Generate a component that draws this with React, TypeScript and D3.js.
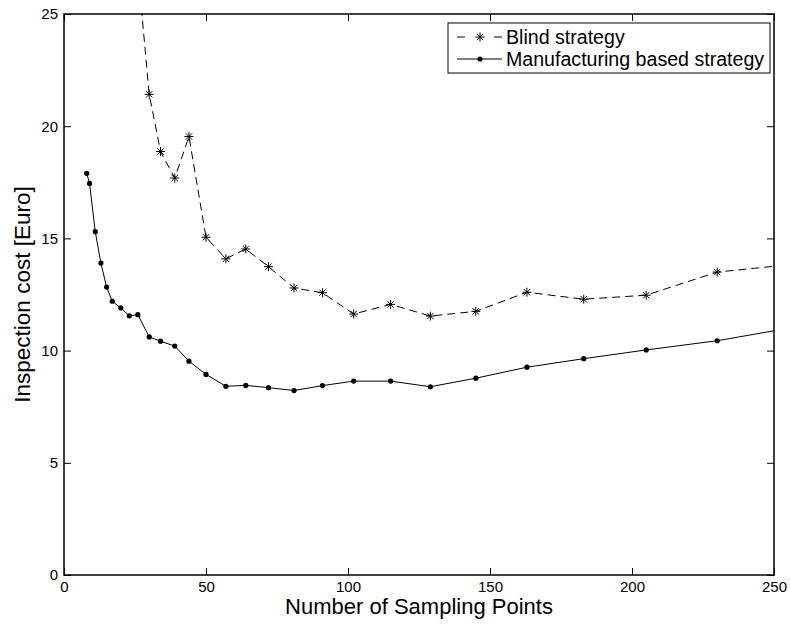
import React, { useRef, useEffect } from "react";
import * as d3 from "d3";

// Data
const mfgX = [8, 9, 11, 13, 15, 17, 20, 23, 26, 30, 34, 39, 44, 50, 57, 64, 72, 81, 91, 102, 115, 129, 145, 163, 183, 205, 230, 258];
const mfgCost = [17.9, 17.45, 15.3, 13.9, 12.83, 12.2, 11.9, 11.55, 11.6, 10.61, 10.42, 10.2, 9.53, 8.94, 8.41, 8.45, 8.35, 8.22, 8.44, 8.64, 8.64, 8.39, 8.77, 9.26, 9.64, 10.03, 10.44, 11.06];
const blindX = [26, 30, 34, 39, 44, 50, 57, 64, 72, 81, 91, 102, 115, 129, 145, 163, 183, 205, 230, 258];
const blindCost = [27.0, 21.42, 18.87, 17.69, 19.54, 15.05, 14.09, 14.53, 13.74, 12.79, 12.58, 11.63, 12.06, 11.54, 11.75, 12.6, 12.29, 12.47, 13.5, 13.86];
const xTicks = [0, 50, 100, 150, 200, 250];
const yTicks = [0, 5, 10, 15, 20, 25];
const seriesNames = ["Blind strategy", "Manufacturing based strategy"];

const W = 790, H = 629;
const margin = { left: 64, right: 16, top: 14, bottom: 54 };
const FONT = "'Liberation Sans', Arial, Helvetica, sans-serif";

const App = () => {
  const svgRef = useRef(null);

  useEffect(() => {
    const svg = d3.select(svgRef.current);
    svg.selectAll("*").remove();

    const x = d3.scaleLinear().domain([0, 250]).range([margin.left, W - margin.right]);
    const y = d3.scaleLinear().domain([0, 25]).range([H - margin.bottom, margin.top]);
    const [x0, x1] = x.range();
    const [y0, y1] = y.range();

    svg.append("rect").attr("width", W).attr("height", H).attr("fill", "white");

    svg.append("clipPath").attr("id", "plot-clip")
      .append("rect")
      .attr("x", x0).attr("y", y1).attr("width", x1 - x0).attr("height", y0 - y1);

    // Axes (ticks pointing inward, MATLAB style)
    const tick = 7;
    const xAxis = svg.append("g").attr("transform", `translate(0,${y0})`)
      .call(d3.axisBottom(x).tickValues(xTicks).tickSizeInner(-tick).tickSizeOuter(0).tickPadding(6));
    const yAxis = svg.append("g").attr("transform", `translate(${x0},0)`)
      .call(d3.axisLeft(y).tickValues(yTicks).tickSizeInner(-tick).tickSizeOuter(0).tickPadding(6));
    const xTop = svg.append("g").attr("transform", `translate(0,${y1})`)
      .call(d3.axisTop(x).tickValues(xTicks).tickSizeInner(-tick).tickSizeOuter(0).tickFormat(() => ""));
    const yRight = svg.append("g").attr("transform", `translate(${x1},0)`)
      .call(d3.axisRight(y).tickValues(yTicks).tickSizeInner(-tick).tickSizeOuter(0).tickFormat(() => ""));

    [xAxis, yAxis, xTop, yRight].forEach(g => {
      g.select(".domain").remove();
      g.selectAll("line").attr("stroke", "#000").attr("stroke-width", 1);
      g.selectAll("text").attr("fill", "#000").style("font-family", FONT).style("font-size", "15px");
    });

    // Frame
    svg.append("rect")
      .attr("x", x0).attr("y", y1).attr("width", x1 - x0).attr("height", y0 - y1)
      .attr("fill", "none").attr("stroke", "#000").attr("stroke-width", 1.5);

    const plot = svg.append("g").attr("clip-path", "url(#plot-clip)");

    const line = d3.line<number>().x(d => d[0]).y(d => d[1]);
    const blindPts = blindX.map((v, i) => [x(v), y(blindCost[i])]);
    const mfgPts = mfgX.map((v, i) => [x(v), y(mfgCost[i])]);

    plot.append("path").attr("d", line(blindPts))
      .attr("fill", "none").attr("stroke", "#000").attr("stroke-width", 1)
      .attr("stroke-dasharray", "8,5");
    plot.append("path").attr("d", line(mfgPts))
      .attr("fill", "none").attr("stroke", "#000").attr("stroke-width", 1);

    const star = (g, cx, cy, r) => {
      const d = r * Math.SQRT1_2;
      g.append("path")
        .attr("d", `M${cx - r},${cy}H${cx + r}M${cx},${cy - r}V${cy + r}M${cx - d},${cy - d}L${cx + d},${cy + d}M${cx - d},${cy + d}L${cx + d},${cy - d}`)
        .attr("stroke", "#000").attr("stroke-width", 1).attr("fill", "none");
    };

    blindPts.forEach(p => star(plot, p[0], p[1], 4.5));
    plot.selectAll("circle.mfg").data(mfgPts).join("circle")
      .attr("cx", d => d[0]).attr("cy", d => d[1]).attr("r", 2.6).attr("fill", "#000");

    // Axis labels
    svg.append("text")
      .attr("x", (x0 + x1) / 2).attr("y", H - 15)
      .attr("text-anchor", "middle")
      .style("font-family", FONT).style("font-size", "22px")
      .text("Number of Sampling Points");
    svg.append("text")
      .attr("transform", `translate(30,${(y0 + y1) / 2}) rotate(-90)`)
      .attr("text-anchor", "middle")
      .style("font-family", FONT).style("font-size", "22.5px")
      .text("Inspection cost [Euro]");

    // Legend
    const lx = 448, ly = 23, lw = 322, lh = 50;
    const legend = svg.append("g");
    legend.append("rect").attr("x", lx).attr("y", ly).attr("width", lw).attr("height", lh)
      .attr("fill", "white").attr("stroke", "#000").attr("stroke-width", 1);
    const rows = [ly + 14, ly + 36];
    legend.append("line").attr("x1", lx + 9).attr("x2", lx + 54).attr("y1", rows[0]).attr("y2", rows[0])
      .attr("stroke", "#000").attr("stroke-dasharray", "8,29,8");
    star(legend, lx + 32, rows[0], 4.5);
    legend.append("line").attr("x1", lx + 9).attr("x2", lx + 54).attr("y1", rows[1]).attr("y2", rows[1])
      .attr("stroke", "#000");
    legend.append("circle").attr("cx", lx + 32).attr("cy", rows[1]).attr("r", 2.6).attr("fill", "#000");
    seriesNames.forEach((name, i) => {
      legend.append("text")
        .attr("x", lx + 58).attr("y", rows[i]).attr("dy", "0.36em")
        .style("font-family", FONT).style("font-size", "19.6px")
        .text(name);
    });
  }, []);

  return (
    <svg ref={svgRef} width={W} height={H}
      style={{ position: "absolute", left: 0, top: 0, display: "block" }} />
  );
};

export default App;
